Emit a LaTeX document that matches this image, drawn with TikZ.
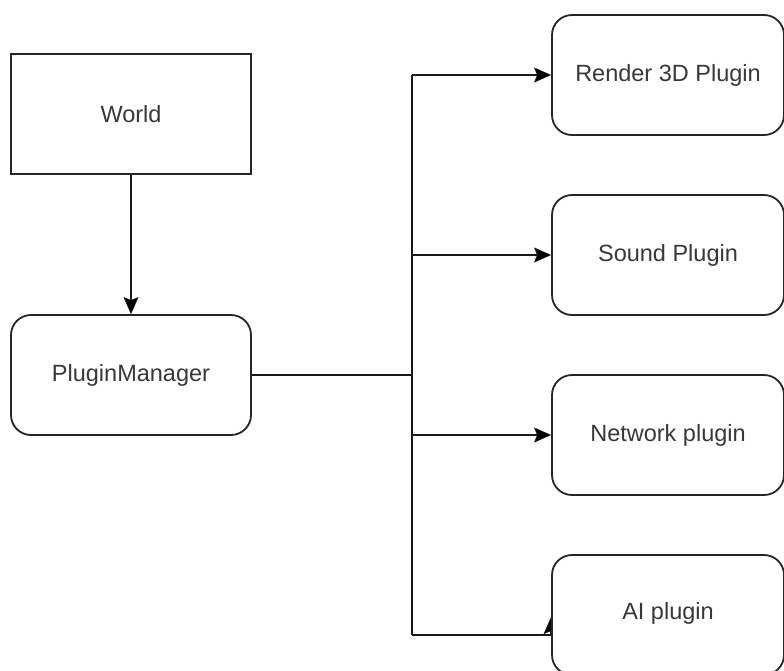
\documentclass[tikz,border=0pt]{standalone}
\usepackage{fontspec}
\setmainfont{Liberation Sans}
\usetikzlibrary{arrows.meta,backgrounds}
\begin{document}
\begin{tikzpicture}[x=1pt,y=-1pt,
  box/.style={draw=black!85,line width=1.8pt,fill=white,minimum width=240pt,minimum height=120pt,
    inner sep=0pt,text=black!78,font=\fontsize{23.5}{27}\selectfont},
  roundbox/.style={box,rounded corners=20pt},
  plug/.style={roundbox,minimum width=232pt,minimum height=120pt},
  link/.style={draw=black!90,line width=2pt},
  arrow/.style={link,-{Stealth[length=17pt,width=15pt,inset=3pt,fill=black,line width=0.5pt]}}]
\useasboundingbox (0,0) rectangle (784,670);
\clip (0,0) rectangle (784,670);

% boxes
\node[box] (world) at (131,114) {World};
\node[roundbox] (pm) at (131,375) {PluginManager};
\node[plug] (render) at (668,75) {Render 3D Plugin};
\node[plug] (sound) at (668,255) {Sound Plugin};
\node[plug] (network) at (668,435) {Network plugin};
\node[plug] (ai) at (668,615) {};
\node[text=black!78,font=\fontsize{23.5}{27}\selectfont] (ailabel) at (668,613) {AI plugin};

% junction points on the vertical trunk
\coordinate (trunk) at (412,375);
\coordinate (top) at (412,75);
\coordinate (bottom) at (412,635);
\coordinate (soundtap) at (412,255);
\coordinate (networktap) at (412,435);
\coordinate (aicorner) at (ai.west |- bottom);

% connectors go under the boxes
\begin{scope}[on background layer]
  \fill[white] (0,0) rectangle (784,670);
  \draw[arrow] (world) -- (pm);
  \draw[link] (pm.east) -- (trunk);
  \draw[link] (top) -- (bottom);
  \draw[arrow] (top) -- (render.west);
  \draw[arrow] (soundtap) -- (sound.west);
  \draw[arrow] (networktap) -- (network.west);
  \draw[arrow] (bottom) -- (aicorner) -- ++(0,-18);
\end{scope}
\end{tikzpicture}
\end{document}
